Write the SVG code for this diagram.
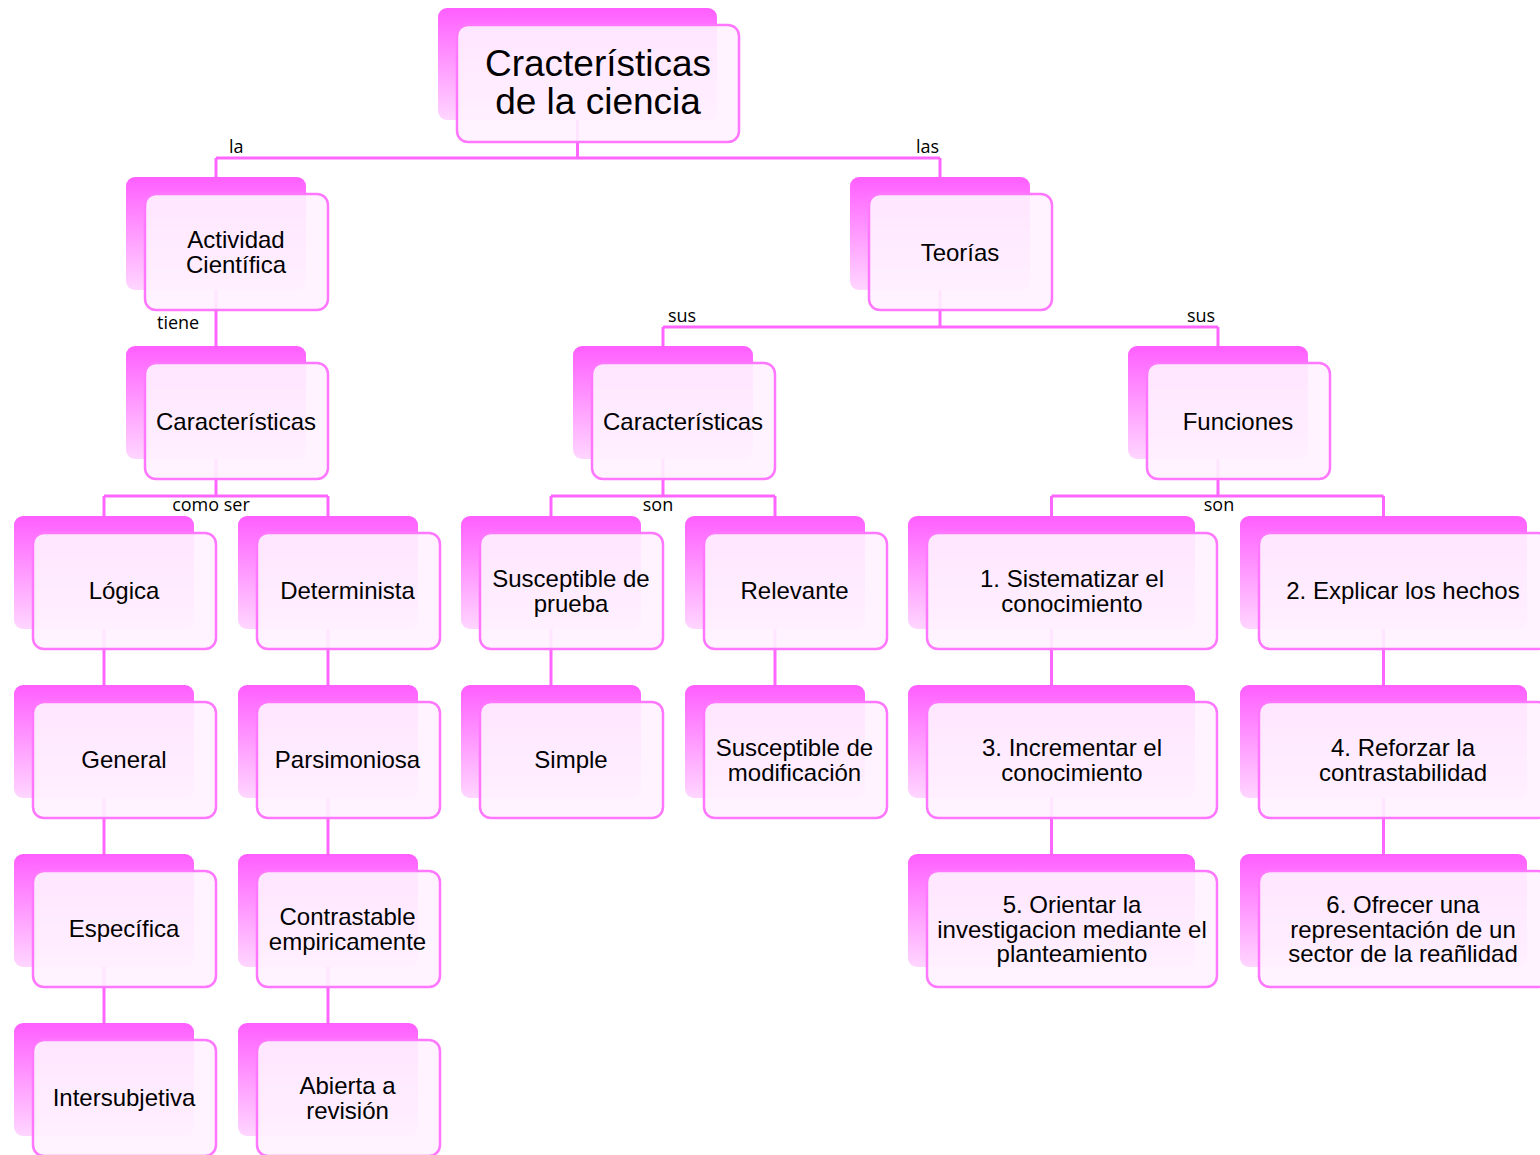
<svg xmlns="http://www.w3.org/2000/svg" width="1540" height="1155" viewBox="0 0 1540 1155">
<defs>
<linearGradient id="g" x1="0" y1="0" x2="0" y2="1">
<stop offset="0" stop-color="#ff5eff"/>
<stop offset="1" stop-color="#ffd6ff"/>
</linearGradient>
<style>
.b{fill:url(#g)}
.f{fill:#fff2ff;fill-opacity:0.91;stroke:#ff77ff;stroke-width:2.5}
.c{stroke:#ff66ff;stroke-width:3;fill:none}
.t{font-family:"Liberation Sans",Arial,sans-serif;font-size:24px;text-anchor:middle;fill:#000}
.h{font-family:"Liberation Sans",Arial,sans-serif;font-size:37px;text-anchor:middle;fill:#000}
.l{font-family:"Open Sans",sans-serif;font-size:18px;fill:#000}
</style>
</defs>
<rect width="1540" height="1155" fill="#fff"/>
<g id="connectors">
<path class="c" d="M577.5 90V158M216 158H940M216 158V177M940 158V177"/>
<path class="c" d="M216 250V346"/>
<path class="c" d="M940 250V327M663 327H1218M663 327V346M1218 327V346"/>
<path class="c" d="M216 420V496M104 496H328M104 496V516M328 496V516"/>
<path class="c" d="M663 420V496M551 496H775M551 496V516M775 496V516"/>
<path class="c" d="M1218 420V496M1051.5 496H1383.5M1051.5 496V516M1383.5 496V516"/>
<path class="c" d="M104 580V1030M328 580V1030M551 580V690M775 580V690M1051.5 580V860M1383.5 580V860"/>
<text class="l" x="229" y="153">la</text>
<text class="l" x="916" y="153">las</text>
<text class="l" x="157" y="329">tiene</text>
<text class="l" x="668" y="322">sus</text>
<text class="l" x="1187" y="322">sus</text>
<text class="l" x="211" y="511" text-anchor="middle">como ser</text>
<text class="l" x="658" y="511" text-anchor="middle">son</text>
<text class="l" x="1219" y="511" text-anchor="middle">son</text>
</g>
<g id="n0"><rect class="b" x="438" y="8" width="279" height="112" rx="9"/><rect class="f" x="457" y="25" width="282" height="117" rx="11"/><text class="h" x="598" y="76">Cracterísticas</text><text class="h" x="598" y="114">de la ciencia</text></g>
<g id="n1"><rect class="b" x="126" y="177" width="180" height="113" rx="9"/><rect class="f" x="145" y="194" width="183" height="116" rx="11"/><text class="t" x="236" y="248">Actividad</text><text class="t" x="236" y="273">Científica</text></g>
<g id="n2"><rect class="b" x="850" y="177" width="180" height="113" rx="9"/><rect class="f" x="869" y="194" width="183" height="116" rx="11"/><text class="t" x="960" y="260.5">Teorías</text></g>
<g id="n3"><rect class="b" x="126" y="346" width="180" height="113" rx="9"/><rect class="f" x="145" y="363" width="183" height="116" rx="11"/><text class="t" x="236" y="429.5">Características</text></g>
<g id="n4"><rect class="b" x="573" y="346" width="180" height="113" rx="9"/><rect class="f" x="592" y="363" width="183" height="116" rx="11"/><text class="t" x="683" y="429.5">Características</text></g>
<g id="n5"><rect class="b" x="1128" y="346" width="180" height="113" rx="9"/><rect class="f" x="1147" y="363" width="183" height="116" rx="11"/><text class="t" x="1238" y="429.5">Funciones</text></g>
<g id="n6"><rect class="b" x="14" y="516" width="180" height="113" rx="9"/><rect class="f" x="33" y="533" width="183" height="116" rx="11"/><text class="t" x="124" y="599">Lógica</text></g>
<g id="n7"><rect class="b" x="238" y="516" width="180" height="113" rx="9"/><rect class="f" x="257" y="533" width="183" height="116" rx="11"/><text class="t" x="347.5" y="599">Determinista</text></g>
<g id="n8"><rect class="b" x="461" y="516" width="180" height="113" rx="9"/><rect class="f" x="480" y="533" width="183" height="116" rx="11"/><text class="t" x="571" y="586.5">Susceptible de</text><text class="t" x="571" y="611.5">prueba</text></g>
<g id="n9"><rect class="b" x="685" y="516" width="180" height="113" rx="9"/><rect class="f" x="704" y="533" width="183" height="116" rx="11"/><text class="t" x="794.5" y="599">Relevante</text></g>
<g id="n10"><rect class="b" x="908" y="516" width="287" height="113" rx="9"/><rect class="f" x="927" y="533" width="290" height="116" rx="11"/><text class="t" x="1072" y="586.5">1. Sistematizar el</text><text class="t" x="1072" y="611.5">conocimiento</text></g>
<g id="n11"><rect class="b" x="1240" y="516" width="287" height="113" rx="9"/><rect class="f" x="1259" y="533" width="290" height="116" rx="11"/><text class="t" x="1403" y="599">2. Explicar los hechos</text></g>
<g id="n12"><rect class="b" x="14" y="685" width="180" height="113" rx="9"/><rect class="f" x="33" y="702" width="183" height="116" rx="11"/><text class="t" x="124" y="768">General</text></g>
<g id="n13"><rect class="b" x="238" y="685" width="180" height="113" rx="9"/><rect class="f" x="257" y="702" width="183" height="116" rx="11"/><text class="t" x="347.5" y="768">Parsimoniosa</text></g>
<g id="n14"><rect class="b" x="461" y="685" width="180" height="113" rx="9"/><rect class="f" x="480" y="702" width="183" height="116" rx="11"/><text class="t" x="571" y="768">Simple</text></g>
<g id="n15"><rect class="b" x="685" y="685" width="180" height="113" rx="9"/><rect class="f" x="704" y="702" width="183" height="116" rx="11"/><text class="t" x="794.5" y="755.5">Susceptible de</text><text class="t" x="794.5" y="780.5">modificación</text></g>
<g id="n16"><rect class="b" x="908" y="685" width="287" height="113" rx="9"/><rect class="f" x="927" y="702" width="290" height="116" rx="11"/><text class="t" x="1072" y="755.5">3. Incrementar el</text><text class="t" x="1072" y="780.5">conocimiento</text></g>
<g id="n17"><rect class="b" x="1240" y="685" width="287" height="113" rx="9"/><rect class="f" x="1259" y="702" width="290" height="116" rx="11"/><text class="t" x="1403" y="755.5">4. Reforzar la</text><text class="t" x="1403" y="780.5">contrastabilidad</text></g>
<g id="n18"><rect class="b" x="14" y="854" width="180" height="113" rx="9"/><rect class="f" x="33" y="871" width="183" height="116" rx="11"/><text class="t" x="124" y="937">Específica</text></g>
<g id="n19"><rect class="b" x="238" y="854" width="180" height="113" rx="9"/><rect class="f" x="257" y="871" width="183" height="116" rx="11"/><text class="t" x="347.5" y="924.5">Contrastable</text><text class="t" x="347.5" y="949.5">empiricamente</text></g>
<g id="n20"><rect class="b" x="908" y="854" width="287" height="113" rx="9"/><rect class="f" x="927" y="871" width="290" height="116" rx="11"/><text class="t" x="1072" y="912.5">5. Orientar la</text><text class="t" x="1072" y="937.5">investigacion mediante el</text><text class="t" x="1072" y="961.5">planteamiento</text></g>
<g id="n21"><rect class="b" x="1240" y="854" width="287" height="113" rx="9"/><rect class="f" x="1259" y="871" width="290" height="116" rx="11"/><text class="t" x="1403" y="912.5">6. Ofrecer una</text><text class="t" x="1403" y="937.5">representación de un</text><text class="t" x="1403" y="961.5">sector de la reañlidad</text></g>
<g id="n22"><rect class="b" x="14" y="1023" width="180" height="113" rx="9"/><rect class="f" x="33" y="1040" width="183" height="116" rx="11"/><text class="t" x="124" y="1106">Intersubjetiva</text></g>
<g id="n23"><rect class="b" x="238" y="1023" width="180" height="113" rx="9"/><rect class="f" x="257" y="1040" width="183" height="116" rx="11"/><text class="t" x="347.5" y="1093.5">Abierta a</text><text class="t" x="347.5" y="1118.5">revisión</text></g>
</svg>
